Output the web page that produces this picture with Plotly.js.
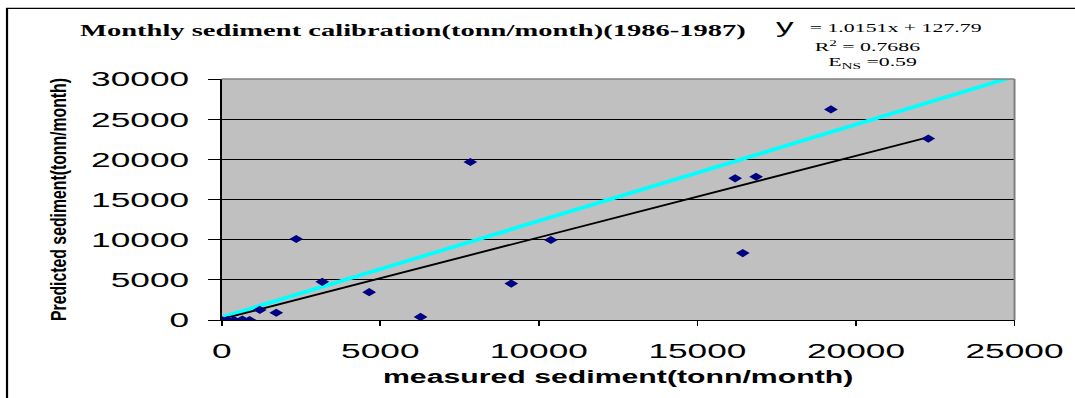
<!DOCTYPE html>
<html>
<head>
<meta charset="utf-8">
<script src="https://cdn.plot.ly/plotly-3.0.1.min.js"></script>
<style>
html, body { margin:0; padding:0; background:#ffffff; overflow:hidden; width:1075px; height:398px; }
#wrap { width:1075px; height:398px; overflow:hidden; position:relative; }
#chart { width:640px; height:398px; transform:scaleX(1.6797); transform-origin:0 0; }
</style>
</head>
<body>
<div id="wrap"><div id="chart"></div></div>
<script>
// ---- data ----
const measured  = [0, 180, 390, 650, 880, 1200, 1720, 2350, 3170, 4650, 6270, 7840, 9130, 10380, 16190, 16430, 16850, 19210, 22280];
const predicted = [0, 0, 0, 50, 0, 1250, 900, 10080, 4750, 3460, 380, 19670, 4540, 9960, 17630, 8330, 17830, 26210, 22580];
const fitSlope = 1.0151;
const fitIntercept = 127.79;
const fitR2 = "0.7686";
const nashSutcliffe = "0.59";
const refLineX = [0, 25200];
const refLineY = [330, 30580];
const xTickVals = [0, 5000, 10000, 15000, 20000, 25000];
const yTickVals = [0, 5000, 10000, 15000, 20000, 25000, 30000];
const chartTitle = "Monthly sediment calibration(tonn/month)(1986-1987)";
const xTitle = "measured sediment(tonn/month)";
const yTitle = "Predicted sediment(tonn/month)";

const fitX = [Math.min.apply(null, measured), Math.max.apply(null, measured)];
const fitY = fitX.map(v => fitSlope * v + fitIntercept);

const SANS = "Liberation Sans, Arial, sans-serif";
const SERIF = "Liberation Serif, Times New Roman, serif";

const data = [
  { x: refLineX, y: refLineY, type: "scatter", mode: "lines",
    line: { color: "#00FFFF", width: 3.5 }, hoverinfo: "skip" },
  { x: fitX, y: fitY, type: "scatter", mode: "lines",
    line: { color: "#000000", width: 1.8 }, hoverinfo: "skip" },
  { x: measured, y: predicted, type: "scatter", mode: "markers",
    marker: { symbol: "diamond", size: 6.3, color: "#000080", line: { width: 0 } } }
];

const layout = {
  width: 640, height: 398,
  margin: { l: 132, r: 36, t: 79, b: 78, pad: 0 },
  paper_bgcolor: "#ffffff",
  plot_bgcolor: "#C0C0C0",
  showlegend: false,
  title: { text: chartTitle, xref: "container", x: 0.0744, xanchor: "left",
           yref: "container", y: 0.925, yanchor: "middle",
           font: { family: SERIF, size: 17, weight: "bold", color: "#000" } },
  xaxis: {
    range: [0, 25000], tickmode: "array", tickvals: xTickVals, ticktext: xTickVals.map(String),
    ticks: "outside", ticklen: 5, tickwidth: 1, tickcolor: "#000",
    ticklabelstandoff: 7,
    showline: true, linecolor: "#000", linewidth: 1,
    showgrid: false, zeroline: false,
    tickfont: { family: SANS, size: 21, color: "#000" },
    title: { text: xTitle, standoff: 9, font: { family: SANS, size: 18, weight: "bold", color: "#000" } },
    automargin: false, fixedrange: true
  },
  yaxis: {
    range: [0, 30000], tickmode: "array", tickvals: yTickVals, ticktext: yTickVals.map(String),
    ticks: "outside", ticklen: 7, tickwidth: 1, tickcolor: "#000",
    ticklabelstandoff: 7,
    showline: true, linecolor: "#000", linewidth: 1.2,
    showgrid: true, gridcolor: "#000", gridwidth: 1, zeroline: false,
    tickfont: { family: SANS, size: 21, color: "#000" },
    title: { text: yTitle, standoff: 11, font: { family: SANS, size: 13.5, weight: "bold", color: "#000" } },
    automargin: false, fixedrange: true
  },
  shapes: [
    { type: "line", xref: "paper", yref: "paper", x0: 0, x1: 1, y0: 1, y1: 1,
      line: { color: "#808080", width: 1.5 }, layer: "above" },
    { type: "line", xref: "paper", yref: "paper", x0: 1, x1: 1, y0: 0, y1: 1,
      line: { color: "#808080", width: 1.2 }, layer: "above" },
    { type: "rect", xref: "paper", yref: "paper", x0: -0.2708, x1: 1.6, y0: -0.6, y1: 1.2934,
      line: { color: "#000000", width: 1.3 }, fillcolor: "rgba(0,0,0,0)", layer: "above" }
  ],
  annotations: [
    { xref: "paper", yref: "paper", x: 0.7117, y: 1.222, xanchor: "center", yanchor: "middle",
      text: "y", showarrow: false, font: { family: SANS, size: 21, color: "#000" } },
    { xref: "paper", yref: "paper", x: 0.7369, y: 1.212, xanchor: "left", yanchor: "middle",
      text: "= " + fitSlope + "x + " + fitIntercept, showarrow: false,
      font: { family: SERIF, size: 13, color: "#000" } },
    { xref: "paper", yref: "paper", x: 0.8152, y: 1.137, xanchor: "center", yanchor: "middle",
      text: "R<sup>2</sup> = " + fitR2, showarrow: false,
      font: { family: SERIF, size: 13, color: "#000" } },
    { xref: "paper", yref: "paper", x: 0.8214, y: 1.0705, xanchor: "center", yanchor: "middle",
      text: "E<sub>NS</sub> =" + nashSutcliffe, showarrow: false,
      font: { family: SERIF, size: 13, color: "#000" } }
  ]
};

Plotly.newPlot("chart", data, layout, { displayModeBar: false, staticPlot: true }).then(function (gd) {
  const t = gd.querySelector(".ytitle");
  if (t) {
    t.setAttribute("textLength", "243");
    t.setAttribute("lengthAdjust", "spacingAndGlyphs");
  }
});
</script>
</body>
</html>
